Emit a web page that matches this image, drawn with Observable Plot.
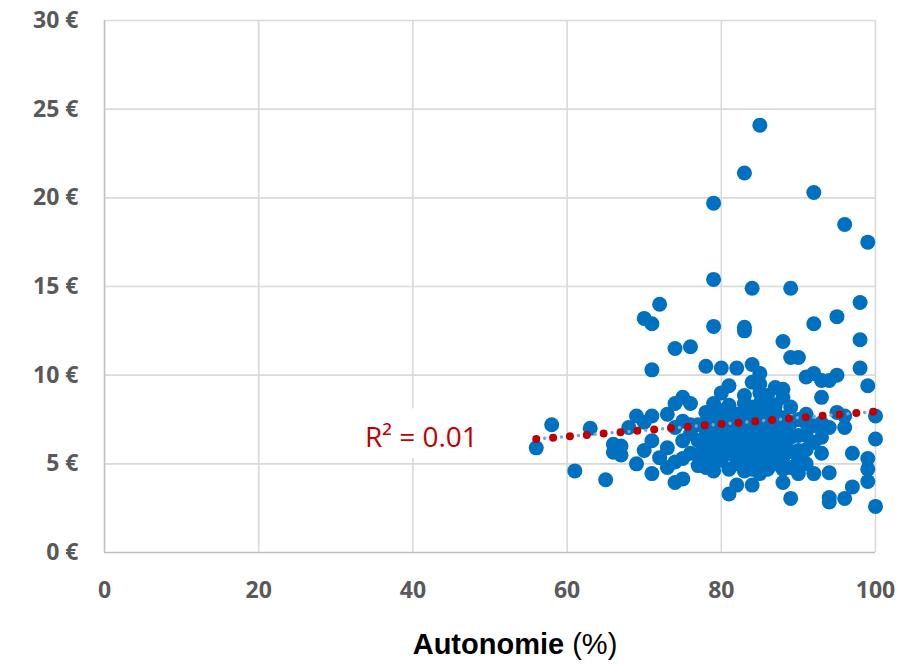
<!DOCTYPE html>
<html>
<head>
<meta charset="utf-8">
<script src="https://cdn.jsdelivr.net/npm/d3@7"></script>
<script src="https://cdn.jsdelivr.net/npm/@observablehq/plot@0.6"></script>
<style>
  body { margin: 0; background: #fff; }
  #wrap { position: relative; width: 910px; height: 669px; }
  #title { position: absolute; top: 628px; left: 515px; transform: translateX(-50%);
    font-family: "Liberation Sans", Arial, sans-serif; font-size: 29px; color: #000; white-space: nowrap; }
  #title b { font-weight: bold; }
</style>
</head>
<body>
<div id="wrap"><div id="chart"></div><div id="title"><b>Autonomie</b> (%)</div></div>
<script>
// Autonomie (%) values
const autonomie = [
  56,58,61,63,65,66,66,67,67,68,69,69,70,71,71,72,70,70,71,71,71,72,73,73,73,74,74,74,74,75,75,75,76,76,76,76,
  78,78,78,79,79,79,79,79,80,80,81,81,82,82,82,83,83,83,83,83,83,84,84,84,85,85,85,85,85,86,87,87,88,88,88,88,
  89,89,90,89,89,89,89,90,90,91,91,91,91,92,92,92,92,92,93,93,93,93,94,94,94,94,94,95,95,95,96,96,96,96,97,97,
  98,98,98,99,99,99,99,99,100,100,100,
  77,77,77,77, 78,78,78,78,78, 79,79,79,79,79, 80,80,80,80,80, 81,81,81,81,81,81,
  82,82,82,82,82, 83,83,83,83,83,83, 84,84,84,84,84,84,84, 85,85,85,85,85,85,
  86,86,86,86,86,86, 87,87,87,87,87, 88,88,88,88,88, 89,89, 90,90,90,
  91,91, 92, 93, 75,76,75,74
];
// Prix (€) values
const prix = [
  5.9,7.2,4.6,7.0,4.1,6.1,5.65,5.5,6.0,7.05,7.7,5.0,13.2,12.9,10.3,14.0,7.35,5.75,7.7,6.3,4.45,5.35,7.8,5.9,4.8,8.4,7.05,3.95,11.5,8.75,6.3,4.15,11.6,8.4,6.7,5.6,
  10.5,7.9,4.8,19.7,15.4,12.75,8.4,4.6,10.4,9.0,9.4,3.3,10.4,5.0,3.8,21.4,12.7,12.5,8.85,8.4,4.6,14.9,10.6,3.8,24.1,10.1,9.5,9.0,4.45,8.85,9.3,8.3,11.9,9.2,8.75,3.95,
  14.9,11.0,11.0,8.2,6.5,4.8,3.05,5.75,4.45,9.9,7.3,6.6,5.0,20.3,12.9,10.1,7.15,4.45,9.7,8.75,6.5,5.6,9.7,7.05,4.5,3.1,2.85,13.3,10.0,7.9,18.5,7.7,7.05,3.05,5.6,3.7,
  14.1,12.0,10.4,17.5,9.4,5.3,4.7,4.0,7.7,6.4,2.6,
  7.2,6.3,5.5,4.9, 7.3,6.6,6.0,5.4,5.0, 7.6,6.9,6.2,5.6,5.1, 8.0,7.3,6.6,5.9,5.2, 8.3,7.5,6.8,6.2,5.6,4.7,
  7.8,7.0,6.4,5.8,5.3, 8.0,7.4,6.7,6.1,5.5,5.0, 9.6,8.2,7.5,6.8,6.1,5.4,4.7, 8.4,7.7,7.0,6.3,5.7,5.1,
  8.2,7.4,6.7,6.0,5.3,4.7, 7.9,7.1,6.4,5.7,5.0, 7.6,6.8,6.1,5.4,4.7, 7.3,5.7, 7.5,6.6,5.2,
  7.8,5.8, 6.2, 7.3, 7.4,7.2,5.3,5.1
];
// Trend line endpoints
const trendX = [56, 100];
const trendY = [6.4, 7.95];
const r2Label = "R² = 0.01";
const r2Pos = [41.1, 6.45];
const r2Box = [32.6, 50.1, 5.3, 8.1];
const xTicks = [0, 20, 40, 60, 80, 100];
const yTicks = [0, 5, 10, 15, 20, 25, 30];

const points = autonomie.map((x, i) => ({x, y: prix[i]}));
const trend = trendX.map((x, i) => ({x, y: trendY[i]}));

const chart = Plot.plot({
  width: 910,
  height: 620,
  marginLeft: 104,
  marginRight: 35,
  marginTop: 20,
  marginBottom: 68,
  style: {fontFamily: "'Open Sans', 'Noto Sans', sans-serif", background: "#fff"},
  x: {domain: [0, 100]},
  y: {domain: [0, 30]},
  marks: [
    Plot.gridX(xTicks.slice(1), {stroke: "#d9d9d9", strokeOpacity: 1, strokeWidth: 1.6}),
    Plot.gridY(yTicks.slice(1), {stroke: "#d9d9d9", strokeOpacity: 1, strokeWidth: 1.6}),
    Plot.ruleX([0], {stroke: "#bfbfbf", strokeWidth: 1.6}),
    Plot.ruleY([0], {stroke: "#bfbfbf", strokeWidth: 1.6}),
    Plot.axisY(yTicks, {tickSize: 0, tickPadding: 26, tickFormat: d => `${d} €`, fontSize: 23, fontWeight: "bold", fill: "#595959", label: null}),
    Plot.axisX(xTicks, {tickSize: 0, tickPadding: 29, fontSize: 23, fontWeight: "bold", fill: "#595959", label: null}),
    Plot.rect([r2Box], {x1: d => d[0], x2: d => d[1], y1: d => d[2], y2: d => d[3], fill: "#fff"}),
    Plot.text([r2Pos], {x: d => d[0], y: d => d[1], text: () => r2Label, fill: "#C00000", fontSize: 28}),
    Plot.dot(points, {x: "x", y: "y", r: 7.5, fill: "#0070C0", stroke: "none"}),
    Plot.line(trend, {x: "x", y: "y", stroke: "#6fa8dc", strokeWidth: 3.5, strokeLinecap: "round", strokeDasharray: "0 16.9", strokeDashoffset: -8.45}),
    Plot.line(trend, {x: "x", y: "y", stroke: "#C00000", strokeWidth: 8, strokeLinecap: "round", strokeDasharray: "0 16.9"})
  ]
});
chart.querySelectorAll("text").forEach(t => {
  if (t.textContent.includes("R²")) {
    t.style.fontSize = "28px";
  } else {
    t.style.fontSize = "23px";
    t.style.fontWeight = "bold";
  }
});
document.getElementById("chart").appendChild(chart);
</script>
</body>
</html>
